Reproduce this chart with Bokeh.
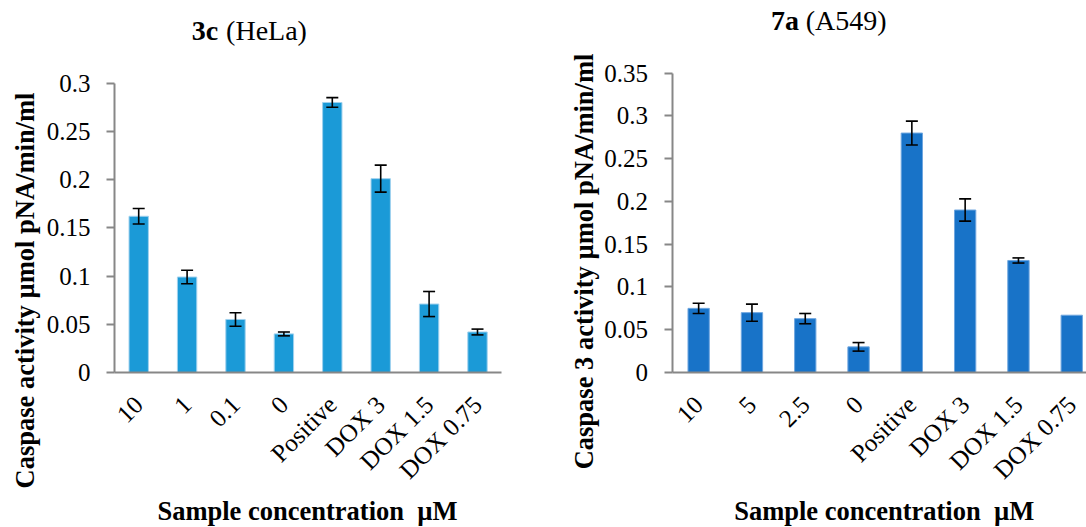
import math
from bokeh.plotting import figure
from bokeh.models import (ColumnDataSource, Range1d, FixedTicker,
                          CustomJSTickFormatter, Whisker, TeeHead, Label)
from bokeh.layouts import row
from bokeh.embed import file_html
from bokeh.resources import INLINE

# ---------------- data ----------------
left_categories = ["10", "1", "0.1", "0", "Positive", "DOX 3", "DOX 1.5", "DOX 0.75"]
left_values = [0.162, 0.099, 0.055, 0.040, 0.280, 0.201, 0.071, 0.042]
left_errors = [0.008, 0.007, 0.007, 0.002, 0.005, 0.014, 0.013, 0.003]
left_ticks = [0, 0.05, 0.1, 0.15, 0.2, 0.25, 0.3]

right_categories = ["10", "5", "2.5", "0", "Positive", "DOX 3", "DOX 1.5", "DOX 0.75"]
right_values = [0.075, 0.070, 0.063, 0.030, 0.280, 0.190, 0.131, 0.067]
right_errors = [0.006, 0.010, 0.006, 0.005, 0.014, 0.013, 0.003, None]
right_ticks = [0, 0.05, 0.1, 0.15, 0.2, 0.25, 0.3, 0.35]

left_title_bold, left_title_rest = "3c", "(HeLa)"
right_title_bold, right_title_rest = "7a", "(A549)"
left_ylabel = "Caspase activity µmol pNA/min/ml"
right_ylabel = "Caspase 3 activity µmol pNA/min/ml"
xlabel = "Sample concentration \u00a0µM"

SERIF = "Liberation Serif"
AXIS_GRAY = "#878787"
FIG_H = 527


def make_panel(cats, vals, errs, ticks, ymax, color, edge, width,
               plot_left, cat_w, zero_y, top_y,
               tb, tr, tx1, tx2, ty, ylab, ylx, yly, xlx, xly):
    # The frame fills the whole figure; axes are pinned at x=0 / y=0
    # with fixed_location so that titles and labels can sit anywhere.
    px_per_unit = (zero_y - top_y) / ymax
    y_start = -(FIG_H - zero_y) / px_per_unit
    y_end = zero_y / px_per_unit
    x_start = -plot_left / cat_w
    x_end = x_start + width / cat_w

    pos = [i + 0.5 for i in range(len(cats))]

    p = figure(x_range=Range1d(x_start, x_end),
               y_range=Range1d(y_start, y_end),
               width=width, height=FIG_H,
               min_border=0, min_border_left=0, min_border_right=0,
               min_border_top=0, min_border_bottom=0,
               output_backend="svg", toolbar_location=None)
    p.outline_line_color = None
    p.xgrid.grid_line_color = None
    p.ygrid.grid_line_color = None
    p.background_fill_color = "white"
    p.border_fill_color = "white"

    src = ColumnDataSource(dict(x=pos, top=vals))
    p.vbar(x="x", top="top", width=0.4, source=src,
           fill_color=color, line_color=edge, line_width=1)

    ex = [x for x, e in zip(pos, errs) if e is not None]
    eu = [v + e for v, e in zip(vals, errs) if e is not None]
    el = [v - e for v, e in zip(vals, errs) if e is not None]
    esrc = ColumnDataSource(dict(x=ex, upper=eu, lower=el))
    w = Whisker(base="x", upper="upper", lower="lower", source=esrc, level="overlay",
                line_color="black", line_width=1.6,
                upper_head=TeeHead(size=12, line_color="black", line_width=1.6),
                lower_head=TeeHead(size=12, line_color="black", line_width=1.6))
    p.add_layout(w)

    # x axis (category names as tick labels)
    xa = p.xaxis[0]
    xa.fixed_location = 0
    xa.bounds = (0, len(cats))
    xa.ticker = FixedTicker(ticks=pos)
    xa.formatter = CustomJSTickFormatter(args=dict(labels=cats),
                                         code="return labels[Math.round(tick - 0.5)];")
    xa.axis_line_color = AXIS_GRAY
    xa.axis_line_width = 2
    xa.major_tick_line_color = None
    xa.minor_tick_line_color = None
    xa.major_label_orientation = math.pi / 4
    xa.major_label_text_font = SERIF
    xa.major_label_text_font_size = "25px"
    xa.major_label_text_color = "black"
    xa.major_label_standoff = 22

    # y axis
    ya = p.yaxis[0]
    ya.fixed_location = 0
    ya.bounds = (0, ymax)
    ya.ticker = FixedTicker(ticks=ticks)
    ya.formatter = CustomJSTickFormatter(code="return String(Math.round(tick*100)/100);")
    ya.axis_line_color = AXIS_GRAY
    ya.axis_line_width = 2
    ya.major_tick_line_color = AXIS_GRAY
    ya.major_tick_line_width = 2
    ya.major_tick_out = 8
    ya.major_tick_in = 0
    ya.minor_tick_line_color = None
    ya.major_label_text_font = SERIF
    ya.major_label_text_font_size = "25px"
    ya.major_label_text_color = "black"
    ya.major_label_standoff = 16

    # title (bold part + regular part)
    p.add_layout(Label(x=tx1, y=ty, x_units="screen", y_units="screen", text=tb,
                       text_font=SERIF, text_font_size="28px", text_font_style="bold",
                       text_align="right", text_baseline="middle", text_color="black"))
    p.add_layout(Label(x=tx2, y=ty, x_units="screen", y_units="screen", text=tr,
                       text_font=SERIF, text_font_size="28px",
                       text_align="left", text_baseline="middle", text_color="black"))
    # y label
    p.add_layout(Label(x=ylx, y=yly, x_units="screen", y_units="screen", text=ylab,
                       angle=math.pi / 2, text_font=SERIF, text_font_size="26.5px",
                       text_font_style="bold", text_align="center", text_baseline="middle",
                       text_color="black"))
    # x label
    p.add_layout(Label(x=xlx, y=xly, x_units="screen", y_units="screen", text=xlabel,
                       text_font=SERIF, text_font_size="26.5px", text_font_style="bold",
                       text_align="center", text_baseline="middle", text_color="black"))
    return p


# figure 1 occupies x 0..545, figure 2 x 545..1086; both y 0..527
p1 = make_panel(left_categories, left_values, left_errors, left_ticks, 0.3,
                "#1B9AD7", "#9fd1ee", 545,
                114, 48.4, 372, 82.7,
                left_title_bold, left_title_rest, 217.6, 225.6, 497,
                left_ylabel, 24, 237, 307, 17)
p2 = make_panel(right_categories, right_values, right_errors, right_ticks, 0.35,
                "#1873C8", "#6fa6df", 541,
                126.5, 53.3, 372, 72.7,
                right_title_bold, right_title_rest, 253.4, 260.3, 507,
                right_ylabel, 38.5, 266, 338.7, 17)

layout = row(p1, p2)
open("out.html", "w").write(file_html(layout, INLINE))
